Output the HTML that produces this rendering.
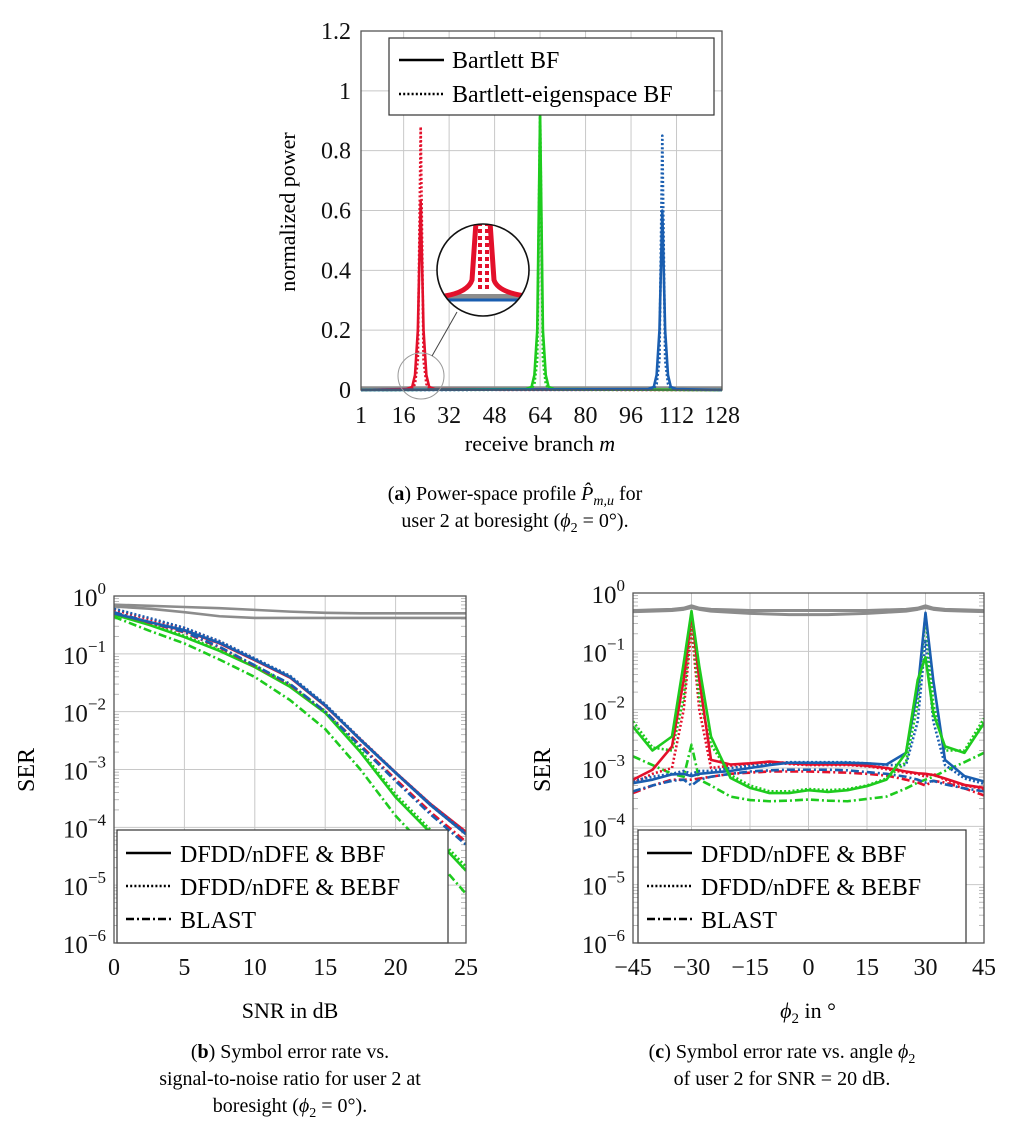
<!DOCTYPE html>
<html><head><meta charset="utf-8">
<style>
html,body{margin:0;padding:0;background:#fff;}
svg{display:block;font-family:"Liberation Serif",serif;}
</style></head>
<body>
<svg id="fig" width="1028" height="1148" viewBox="0 0 1028 1148" xmlns="http://www.w3.org/2000/svg">
<g id="ga"></g>
<g id="gb"></g>
<g id="gc"></g>
<g font-size="20" text-anchor="middle">
 <text x="515" y="500">(<tspan font-weight="bold">a</tspan>) Power-space profile <tspan font-style="italic">P̂</tspan><tspan font-style="italic" font-size="14" dy="5">m,u</tspan><tspan dy="-5"> for</tspan></text>
 <text x="515" y="527">user 2 at boresight (<tspan font-style="italic">ϕ</tspan><tspan font-size="14" dy="5">2</tspan><tspan dy="-5"> = 0°).</tspan></text>
 <text x="290" y="1058">(<tspan font-weight="bold">b</tspan>) Symbol error rate vs.</text>
 <text x="290" y="1085">signal-to-noise ratio for user 2 at</text>
 <text x="290" y="1112">boresight (<tspan font-style="italic">ϕ</tspan><tspan font-size="14" dy="5">2</tspan><tspan dy="-5"> = 0°).</tspan></text>
 <text x="782" y="1058">(<tspan font-weight="bold">c</tspan>) Symbol error rate vs. angle <tspan font-style="italic">ϕ</tspan><tspan font-size="14" dy="5">2</tspan></text>
 <text x="782" y="1085">of user 2 for SNR = 20 dB.</text>
</g>
</svg>
<script>
// ---------- chart a data ----------
const aTicksX = [1,16,32,48,64,80,96,112,128];
const aTicksY = [0,0.2,0.4,0.6,0.8,1,1.2];
const aTickLabelsY = ["0","0.2","0.4","0.6","0.8","1","1.2"];
const aRedM   = [1,17,19,20,21,22,23,24,25,27,128];
const aRedSolid = [0,0.003,0.01,0.05,0.2,0.63,0.2,0.05,0.01,0.003,0];
const aRedDot   = [0,0.001,0.004,0.02,0.1,0.88,0.1,0.02,0.004,0.001,0];
const aGreenM = [1,59,61,62,63,64,65,66,67,69,128];
const aGreenSolid = [0,0.003,0.01,0.05,0.2,0.93,0.2,0.05,0.01,0.003,0];
const aGreenDot   = [0,0.001,0.004,0.02,0.1,0.93,0.1,0.02,0.004,0.001,0];
const aBlueM  = [1,102,104,105,106,107,108,109,110,112,128];
const aBlueSolid = [0,0.003,0.01,0.05,0.2,0.6,0.2,0.05,0.01,0.003,0];
const aBlueDot   = [0,0.001,0.004,0.02,0.1,0.85,0.1,0.02,0.004,0.001,0];
const aGrayLevel = [0.006,0.006];
// ---------- chart b data ----------
const bSnr = [0,2.5,5,7.5,10,12.5,15,17.5,20,22.5,25];
const bTicksX = [0,5,10,15,20,25];
const bGray1 = [-0.15,-0.17,-0.19,-0.21,-0.24,-0.27,-0.29,-0.3,-0.3,-0.3,-0.3];
const bGray2 = [-0.18,-0.22,-0.28,-0.35,-0.38,-0.38,-0.38,-0.38,-0.38,-0.38,-0.38];
const bBlueSolid = [-0.3,-0.45,-0.59,-0.81,-1.1,-1.4,-1.89,-2.49,-3.06,-3.62,-4.12];
const bRedSolid  = [-0.3,-0.45,-0.6,-0.82,-1.11,-1.41,-1.9,-2.48,-3.05,-3.6,-4.08];
const bBlueDot   = [-0.22,-0.38,-0.55,-0.78,-1.08,-1.38,-1.87,-2.47,-3.05,-3.6,-4.1];
const bRedDot    = [-0.24,-0.4,-0.56,-0.79,-1.09,-1.39,-1.88,-2.48,-3.06,-3.62,-4.12];
const bBlueDash  = [-0.28,-0.45,-0.62,-0.88,-1.2,-1.52,-2.0,-2.6,-3.2,-3.78,-4.3];
const bRedDash   = [-0.29,-0.46,-0.63,-0.89,-1.21,-1.53,-2.0,-2.58,-3.17,-3.74,-4.25];
const bGreenSolid = [-0.32,-0.5,-0.71,-0.95,-1.23,-1.57,-2.02,-2.7,-3.48,-4.1,-4.75];
const bGreenDot   = [-0.3,-0.48,-0.69,-0.93,-1.2,-1.54,-1.99,-2.66,-3.43,-4.05,-4.68];
const bGreenDash  = [-0.36,-0.6,-0.82,-1.1,-1.4,-1.8,-2.3,-3.0,-3.8,-4.45,-5.15];
// ---------- chart c data ----------
const cPhi = [-45,-40,-35,-32,-30,-28,-25,-20,-15,-10,-5,0,5,10,15,20,25,28,30,32,35,40,45];
const cTicksX = [-45,-30,-15,0,15,30,45];
const cTickLabelsX = ["−45","−30","−15","0","15","30","45"];
const cGray1 = [-0.3,-0.29,-0.28,-0.26,-0.22,-0.26,-0.28,-0.29,-0.3,-0.3,-0.3,-0.3,-0.3,-0.3,-0.3,-0.29,-0.28,-0.26,-0.22,-0.26,-0.28,-0.29,-0.3];
const cGray2 = [-0.32,-0.31,-0.3,-0.28,-0.25,-0.28,-0.31,-0.33,-0.35,-0.36,-0.37,-0.37,-0.37,-0.36,-0.35,-0.33,-0.31,-0.28,-0.25,-0.28,-0.3,-0.31,-0.32];
const cGreenSolid = [-2.29,-2.7,-2.46,-1.2,-0.31,-1.26,-2.46,-3.17,-3.34,-3.43,-3.43,-3.38,-3.41,-3.38,-3.31,-3.2,-2.74,-1.49,-1.1,-2.06,-2.63,-2.74,-2.23];
const cGreenDot   = [-2.2,-2.65,-2.7,-1.8,-0.4,-1.8,-2.6,-3.12,-3.3,-3.4,-3.4,-3.36,-3.38,-3.36,-3.3,-3.18,-2.9,-1.9,-0.35,-1.9,-2.7,-2.7,-2.15];
const cGreenDash  = [-2.8,-2.95,-3.1,-3.15,-2.6,-3.2,-3.3,-3.49,-3.55,-3.57,-3.56,-3.54,-3.56,-3.57,-3.53,-3.49,-3.35,-3.25,-3.2,-3.15,-3.05,-2.9,-2.74];
const cRedSolid  = [-3.2,-3.03,-2.63,-1.49,-0.34,-1.49,-2.86,-2.94,-2.92,-2.89,-2.92,-2.94,-2.94,-2.94,-2.96,-3.0,-3.06,-3.09,-3.1,-3.12,-3.18,-3.29,-3.34];
const cRedDot    = [-3.26,-3.1,-3.0,-2.0,-0.6,-2.0,-3.0,-2.96,-2.93,-2.9,-2.93,-2.95,-2.95,-2.95,-2.97,-3.02,-3.08,-3.1,-3.15,-3.1,-3.2,-3.3,-3.36];
const cRedDash   = [-3.43,-3.3,-3.2,-3.2,-3.2,-3.18,-3.15,-3.1,-3.08,-3.06,-3.06,-3.06,-3.07,-3.08,-3.1,-3.13,-3.2,-3.25,-3.3,-3.22,-3.25,-3.35,-3.47];
const cBlueSolid = [-3.26,-3.2,-3.11,-3.1,-3.14,-3.1,-3.08,-3.05,-3.0,-2.95,-2.91,-2.91,-2.91,-2.91,-2.92,-2.94,-2.74,-1.66,-0.34,-1.5,-2.86,-3.14,-3.23];
const cBlueDot   = [-3.22,-3.15,-3.1,-3.05,-3.1,-3.05,-3.05,-3.0,-2.96,-2.92,-2.9,-2.9,-2.9,-2.9,-2.92,-2.95,-2.95,-2.2,-0.8,-2.2,-2.95,-3.18,-3.27];
const cBlueDash  = [-3.4,-3.3,-3.22,-3.2,-3.3,-3.2,-3.15,-3.1,-3.06,-3.04,-3.03,-3.03,-3.03,-3.04,-3.07,-3.1,-3.15,-3.2,-3.25,-3.22,-3.28,-3.35,-3.4];
const decadeLabels = ["0","−1","−2","−3","−4","−5","−6"];

const NS = "http://www.w3.org/2000/svg";
const RED="#e3102b", GREEN="#1ecb1e", BLUE="#1a5eb0", GRAY="#8c8c8c";
const DOT="2 2.2", DASH="8 3 2 3";
function mk(parent, tag, attrs, text){
  const e=document.createElementNS(NS,tag);
  for(const k in attrs) e.setAttribute(k,attrs[k]);
  if(text!==undefined) e.textContent=text;
  parent.appendChild(e); return e;
}
function poly(parent, xs, ys, fx, fy, color, w, dash, name){
  const pts = xs.map((x,i)=>fx(x).toFixed(2)+","+fy(ys[i]).toFixed(2)).join(" ");
  const p = mk(parent,"polyline",{points:pts,fill:"none",stroke:color,"stroke-width":w,"stroke-linejoin":"round"});
  if(dash) p.setAttribute("stroke-dasharray",dash);
  
  
  return p;
}

// ================= chart A =================
(function(){
  const g=document.getElementById("ga");
  const L=361,R=722,T=31,B=390;
  const fx=m=>L+(m-1)/127*(R-L);
  const fy=v=>B-v/1.2*(B-T);
  const grid=mk(g,"g",{stroke:"#c8c8c8","stroke-width":1});
  
  
  aTicksX.forEach(t=>mk(grid,"line",{x1:fx(t),x2:fx(t),y1:T,y2:B}));
  aTicksY.forEach(t=>mk(grid,"line",{x1:L,x2:R,y1:fy(t),y2:fy(t)}));
  const lab=mk(g,"g",{"font-size":24,fill:"#111"});
  
  
  aTicksX.forEach(t=>mk(lab,"text",{x:fx(t),y:B+33,"text-anchor":"middle"},String(t)));
  aTicksY.forEach((t,i)=>mk(lab,"text",{x:L-10,y:fy(t)+8,"text-anchor":"end"},aTickLabelsY[i]));
  poly(g,[1,128],aGrayLevel,fx,fy,GRAY,4,null,"gray-baseline");
  poly(g,aRedM,aRedSolid,fx,fy,RED,2.6,null,"red-bartlett");
  poly(g,aRedM,aRedDot,fx,fy,RED,2.6,DOT,"red-eigenspace");
  poly(g,aGreenM,aGreenSolid,fx,fy,GREEN,2.6,null,"green-bartlett");
  poly(g,aGreenM,aGreenDot,fx,fy,GREEN,2.6,DOT,"green-eigenspace");
  poly(g,aBlueM,aBlueSolid,fx,fy,BLUE,2.6,null,"blue-bartlett");
  poly(g,aBlueM,aBlueDot,fx,fy,BLUE,2.6,DOT,"blue-eigenspace");
  mk(g,"rect",{x:L,y:T,width:R-L,height:B-T,fill:"none",stroke:"#555","stroke-width":1.3});
  const mg=mk(g,"g",{});
  
  
  mk(mg,"circle",{cx:421,cy:376,r:23,fill:"none",stroke:"#999","stroke-width":1});
  mk(mg,"line",{x1:432,y1:356,x2:457,y2:312,stroke:"#444","stroke-width":1});
  mk(mg,"circle",{cx:483,cy:270,r:46,fill:"#fff",stroke:"none"});
  const cp=mk(g,"clipPath",{id:"clipin"}); mk(cp,"circle",{cx:483,cy:270,r:46});
  const ig=mk(mg,"g",{"clip-path":"url(#clipin)"});
  mk(ig,"rect",{x:430,y:294,width:110,height:5,fill:GRAY});
  mk(ig,"line",{x1:430,y1:300,x2:540,y2:300,stroke:BLUE,"stroke-width":3});
  mk(ig,"path",{d:"M476,222 L472,280 Q468,292 445,296",fill:"none",stroke:RED,"stroke-width":5});
  mk(ig,"path",{d:"M490,222 L494,280 Q498,292 525,296",fill:"none",stroke:RED,"stroke-width":5});
  mk(ig,"path",{d:"M480,222 L480,290",fill:"none",stroke:RED,"stroke-width":4,"stroke-dasharray":"4 3"});
  mk(ig,"path",{d:"M487,222 L487,290",fill:"none",stroke:RED,"stroke-width":4,"stroke-dasharray":"4 3"});
  mk(mg,"circle",{cx:483,cy:270,r:46,fill:"none",stroke:"#111","stroke-width":1.6});
  const lg=mk(g,"g",{});
  
  
  mk(lg,"rect",{x:389,y:38,width:325,height:77,fill:"#fff",stroke:"#333","stroke-width":1.2});
  mk(lg,"line",{x1:399,x2:444,y1:60,y2:60,stroke:"#000","stroke-width":2.6});
  mk(lg,"line",{x1:399,x2:444,y1:94,y2:94,stroke:"#000","stroke-width":2.6,"stroke-dasharray":DOT});
  mk(lg,"text",{x:452,y:68,"font-size":24},"Bartlett BF");
  mk(lg,"text",{x:452,y:102,"font-size":24},"Bartlett-eigenspace BF");
  mk(g,"text",{x:540,y:451,"font-size":22,"text-anchor":"middle"},"receive branch ").appendChild(Object.assign(document.createElementNS(NS,"tspan"),{textContent:"m"})).setAttribute("font-style","italic");
  mk(g,"text",{x:0,y:0,"font-size":22,"text-anchor":"middle",transform:"translate(295,212) rotate(-90)"},"normalized power");
})();

// ================= log charts =================
function logChart(gid,L,R,T,B,xmin,xmax,xt,xtl,xlabel,series,legX,legW,axisPre){
  const g=document.getElementById(gid);
  const fx=x=>L+(x-xmin)/(xmax-xmin)*(R-L);
  const dec=(B-T)/6;
  const fy=v=>T-v*dec;
  const grid=mk(g,"g",{stroke:"#c8c8c8","stroke-width":1});
  
  
  xt.forEach(t=>mk(grid,"line",{x1:fx(t),x2:fx(t),y1:T,y2:B}));
  for(let d=0;d<=6;d++) mk(grid,"line",{x1:L,x2:R,y1:fy(-d),y2:fy(-d)});
  const mt=mk(g,"g",{stroke:"#aaa","stroke-width":0.8});
  for(let d=1;d<=6;d++) for(let k=2;k<10;k++){
    const y=fy(-d+Math.log10(k));
    mk(mt,"line",{x1:L,x2:L+5,y1:y,y2:y}); mk(mt,"line",{x1:R-5,x2:R,y1:y,y2:y});
  }
  const lab=mk(g,"g",{"font-size":25,fill:"#111"});
  
  
  xt.forEach((t,i)=>mk(lab,"text",{x:fx(t),y:B+32,"text-anchor":"middle","font-size":24},xtl[i]));
  for(let d=0;d<=6;d++){
    const t=mk(lab,"text",{x:L-8,y:fy(-d)+10,"text-anchor":"end"},"10");
    const s=document.createElementNS(NS,"tspan");
    s.setAttribute("font-size","17"); s.setAttribute("dy","-12"); s.textContent=decadeLabels[d];
    t.appendChild(s);
  }
  const cp=mk(g,"clipPath",{id:gid+"clip"}); mk(cp,"rect",{x:L,y:T-4,width:R-L,height:B-T+4});
  const sg=mk(g,"g",{"clip-path":"url(#"+gid+"clip)"});
  series.forEach(s=>poly(sg,s.x,s.y,fx,fy,s.c,s.w||2.6,s.d,s.n));
  const lg=mk(g,"g",{});
  
  
  mk(lg,"rect",{x:legX,y:830,width:legW,height:113,fill:"#fff",stroke:"#333","stroke-width":1.2});
  const rows=[["DFDD/nDFE & BBF",null],["DFDD/nDFE & BEBF",DOT],["BLAST",DASH]];
  rows.forEach((r,i)=>{
    const y=853+i*33;
    const ln=mk(lg,"line",{x1:legX+9,x2:legX+54,y1:y,y2:y,stroke:"#000","stroke-width":2.6});
    if(r[1]) ln.setAttribute("stroke-dasharray",r[1]);
    mk(lg,"text",{x:legX+63,y:y+9,"font-size":24},r[0]);
  });
  mk(g,"rect",{x:L,y:T,width:R-L,height:B-T,fill:"none",stroke:"#555","stroke-width":1.3});
  return {g,fx,fy};
}
const b=logChart("gb",114,466,596,943,0,25,bTicksX,bTicksX.map(String),"SNR in dB",[
 {x:bSnr,y:bGray1,c:GRAY,n:"gray-upper"},{x:bSnr,y:bGray2,c:GRAY,n:"gray-lower"},
 {x:bSnr,y:bGreenDash,c:GREEN,d:DASH,n:"green-blast"},{x:bSnr,y:bGreenDot,c:GREEN,d:DOT,n:"green-bebf"},{x:bSnr,y:bGreenSolid,c:GREEN,n:"green-bbf"},
 {x:bSnr,y:bRedDash,c:RED,d:DASH,n:"red-blast"},{x:bSnr,y:bRedDot,c:RED,d:DOT,n:"red-bebf"},{x:bSnr,y:bRedSolid,c:RED,n:"red-bbf"},
 {x:bSnr,y:bBlueDash,c:BLUE,d:DASH,n:"blue-blast"},{x:bSnr,y:bBlueDot,c:BLUE,d:DOT,n:"blue-bebf"},{x:bSnr,y:bBlueSolid,c:BLUE,n:"blue-bbf"}
],117,331,"chart-b");
mk(b.g,"text",{x:290,y:1018,"font-size":22,"text-anchor":"middle"},"SNR in dB");
mk(b.g,"text",{x:0,y:0,"font-size":24,"text-anchor":"middle",transform:"translate(34,770) rotate(-90)"},"SER");

const c=logChart("gc",633,984,593,943,-45,45,cTicksX,cTickLabelsX,"",[
 {x:cPhi,y:cGray1,c:GRAY,w:3,n:"gray-upper"},{x:cPhi,y:cGray2,c:GRAY,w:3,n:"gray-lower"},
 {x:cPhi,y:cGreenDash,c:GREEN,d:DASH,n:"green-blast"},{x:cPhi,y:cRedDash,c:RED,d:DASH,n:"red-blast"},{x:cPhi,y:cBlueDash,c:BLUE,d:DASH,n:"blue-blast"},
 {x:cPhi,y:cRedDot,c:RED,d:DOT,n:"red-bebf"},{x:cPhi,y:cBlueDot,c:BLUE,d:DOT,n:"blue-bebf"},{x:cPhi,y:cGreenDot,c:GREEN,d:DOT,n:"green-bebf"},
 {x:cPhi,y:cRedSolid,c:RED,n:"red-bbf"},{x:cPhi,y:cBlueSolid,c:BLUE,n:"blue-bbf"},{x:cPhi,y:cGreenSolid,c:GREEN,n:"green-bbf"}
],638,328,"chart-c");
const ct=mk(c.g,"text",{x:808,y:1018,"font-size":22,"text-anchor":"middle"});
ct.innerHTML='<tspan font-style="italic">ϕ</tspan><tspan font-size="15" dy="5">2</tspan><tspan dy="-5"> in °</tspan>';
mk(c.g,"text",{x:0,y:0,"font-size":24,"text-anchor":"middle",transform:"translate(550,770) rotate(-90)"},"SER");
</script>
</body></html>
